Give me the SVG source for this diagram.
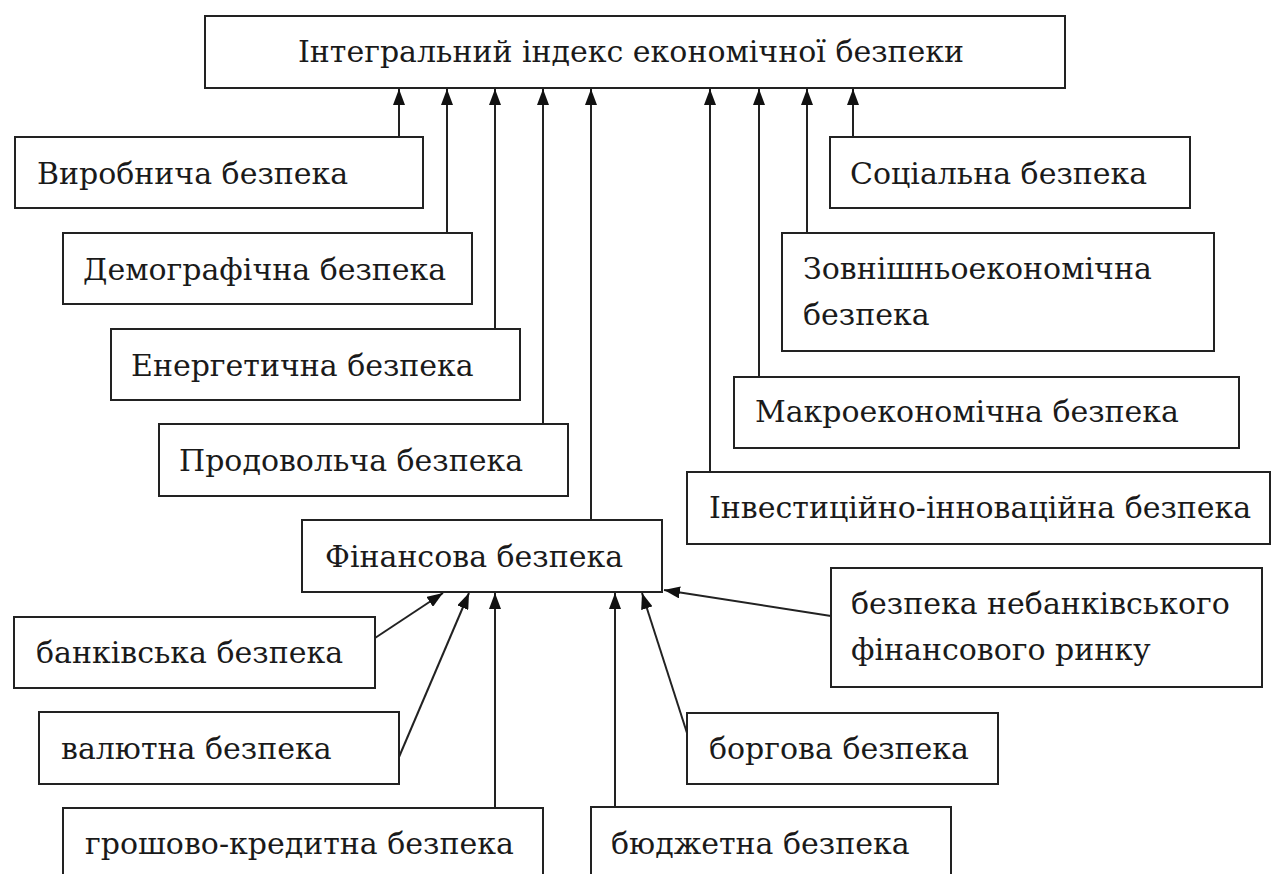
<svg xmlns="http://www.w3.org/2000/svg" width="1277" height="874" viewBox="0 0 1277 874">
<style>
.box{fill:#fff;stroke:#222;stroke-width:2}
.t{font-family:'DejaVu Serif','Liberation Serif',serif;font-size:30px;fill:#1a1a1a}
.c{stroke:#222;stroke-width:2;fill:none;marker-end:url(#ah)}
</style>
<defs>
<marker id="ah" viewBox="0 0 16 12" refX="16" refY="6" markerWidth="16" markerHeight="12" markerUnits="userSpaceOnUse" orient="auto">
<path d="M0,0 L16,6 L0,12 z" fill="#111"/>
</marker>
</defs>
<rect width="1277" height="874" fill="#fff"/>
<g id="connectors">
<line class="c" x1="399" y1="137" x2="399" y2="89"/>
<line class="c" x1="447" y1="233" x2="447" y2="89"/>
<line class="c" x1="495" y1="329" x2="495" y2="89"/>
<line class="c" x1="543" y1="424" x2="543" y2="89"/>
<line class="c" x1="591" y1="520" x2="591" y2="89"/>
<line class="c" x1="710" y1="472" x2="710" y2="89"/>
<line class="c" x1="759" y1="377" x2="759" y2="89"/>
<line class="c" x1="807" y1="233" x2="807" y2="89"/>
<line class="c" x1="853" y1="137" x2="853" y2="89"/>
<line class="c" x1="375" y1="638" x2="443" y2="593"/>
<line class="c" x1="399" y1="757" x2="469" y2="593"/>
<line class="c" x1="495" y1="808" x2="495" y2="593"/>
<line class="c" x1="615" y1="807" x2="615" y2="593"/>
<line class="c" x1="687" y1="733" x2="642" y2="593"/>
<line class="c" x1="831" y1="616" x2="664" y2="590"/>
</g>
<g id="top"><rect class="box" x="205" y="16" width="860" height="72"/><text class="t" x="298" y="62">Інтегральний індекс економічної безпеки</text></g>
<g id="vyrobnycha"><rect class="box" x="15" y="137" width="408" height="71"/><text class="t" x="37" y="184">Виробнича безпека</text></g>
<g id="demohrafichna"><rect class="box" x="63" y="233" width="409" height="71"/><text class="t" x="83" y="280">Демографічна безпека</text></g>
<g id="enerhetychna"><rect class="box" x="111" y="329" width="409" height="71"/><text class="t" x="131" y="376">Енергетична безпека</text></g>
<g id="prodovolcha"><rect class="box" x="159" y="424" width="409" height="72"/><text class="t" x="179" y="471">Продовольча безпека</text></g>
<g id="sotsialna"><rect class="box" x="830" y="137" width="360" height="71"/><text class="t" x="850" y="184">Соціальна безпека</text></g>
<g id="zovnishnoekonomichna"><rect class="box" x="782" y="233" width="432" height="118"/><text class="t" x="803" y="279">Зовнішньоекономічна</text><text class="t" x="803" y="325">безпека</text></g>
<g id="makroekonomichna"><rect class="box" x="734" y="377" width="505" height="71"/><text class="t" x="755" y="422">Макроекономічна безпека</text></g>
<g id="investytsiino"><rect class="box" x="687" y="472" width="583" height="72"/><text class="t" x="709" y="518">Інвестиційно-інноваційна безпека</text></g>
<g id="finansova"><rect class="box" x="302" y="520" width="360" height="72"/><text class="t" x="325" y="567">Фінансова безпека</text></g>
<g id="bankivska"><rect class="box" x="14" y="617" width="361" height="71"/><text class="t" x="36" y="663">банківська безпека</text></g>
<g id="valiutna"><rect class="box" x="39" y="712" width="360" height="72"/><text class="t" x="61" y="759">валютна безпека</text></g>
<g id="hroshovo"><rect class="box" x="63" y="808" width="480" height="80"/><text class="t" x="85" y="854">грошово-кредитна безпека</text></g>
<g id="biudzhetna"><rect class="box" x="591" y="807" width="360" height="80"/><text class="t" x="611" y="854">бюджетна безпека</text></g>
<g id="borhova"><rect class="box" x="687" y="713" width="311" height="71"/><text class="t" x="709" y="759">боргова безпека</text></g>
<g id="nebankivskyi"><rect class="box" x="831" y="568" width="431" height="119"/><text class="t" x="851" y="614">безпека небанківського</text><text class="t" x="851" y="660">фінансового ринку</text></g>
</svg>
